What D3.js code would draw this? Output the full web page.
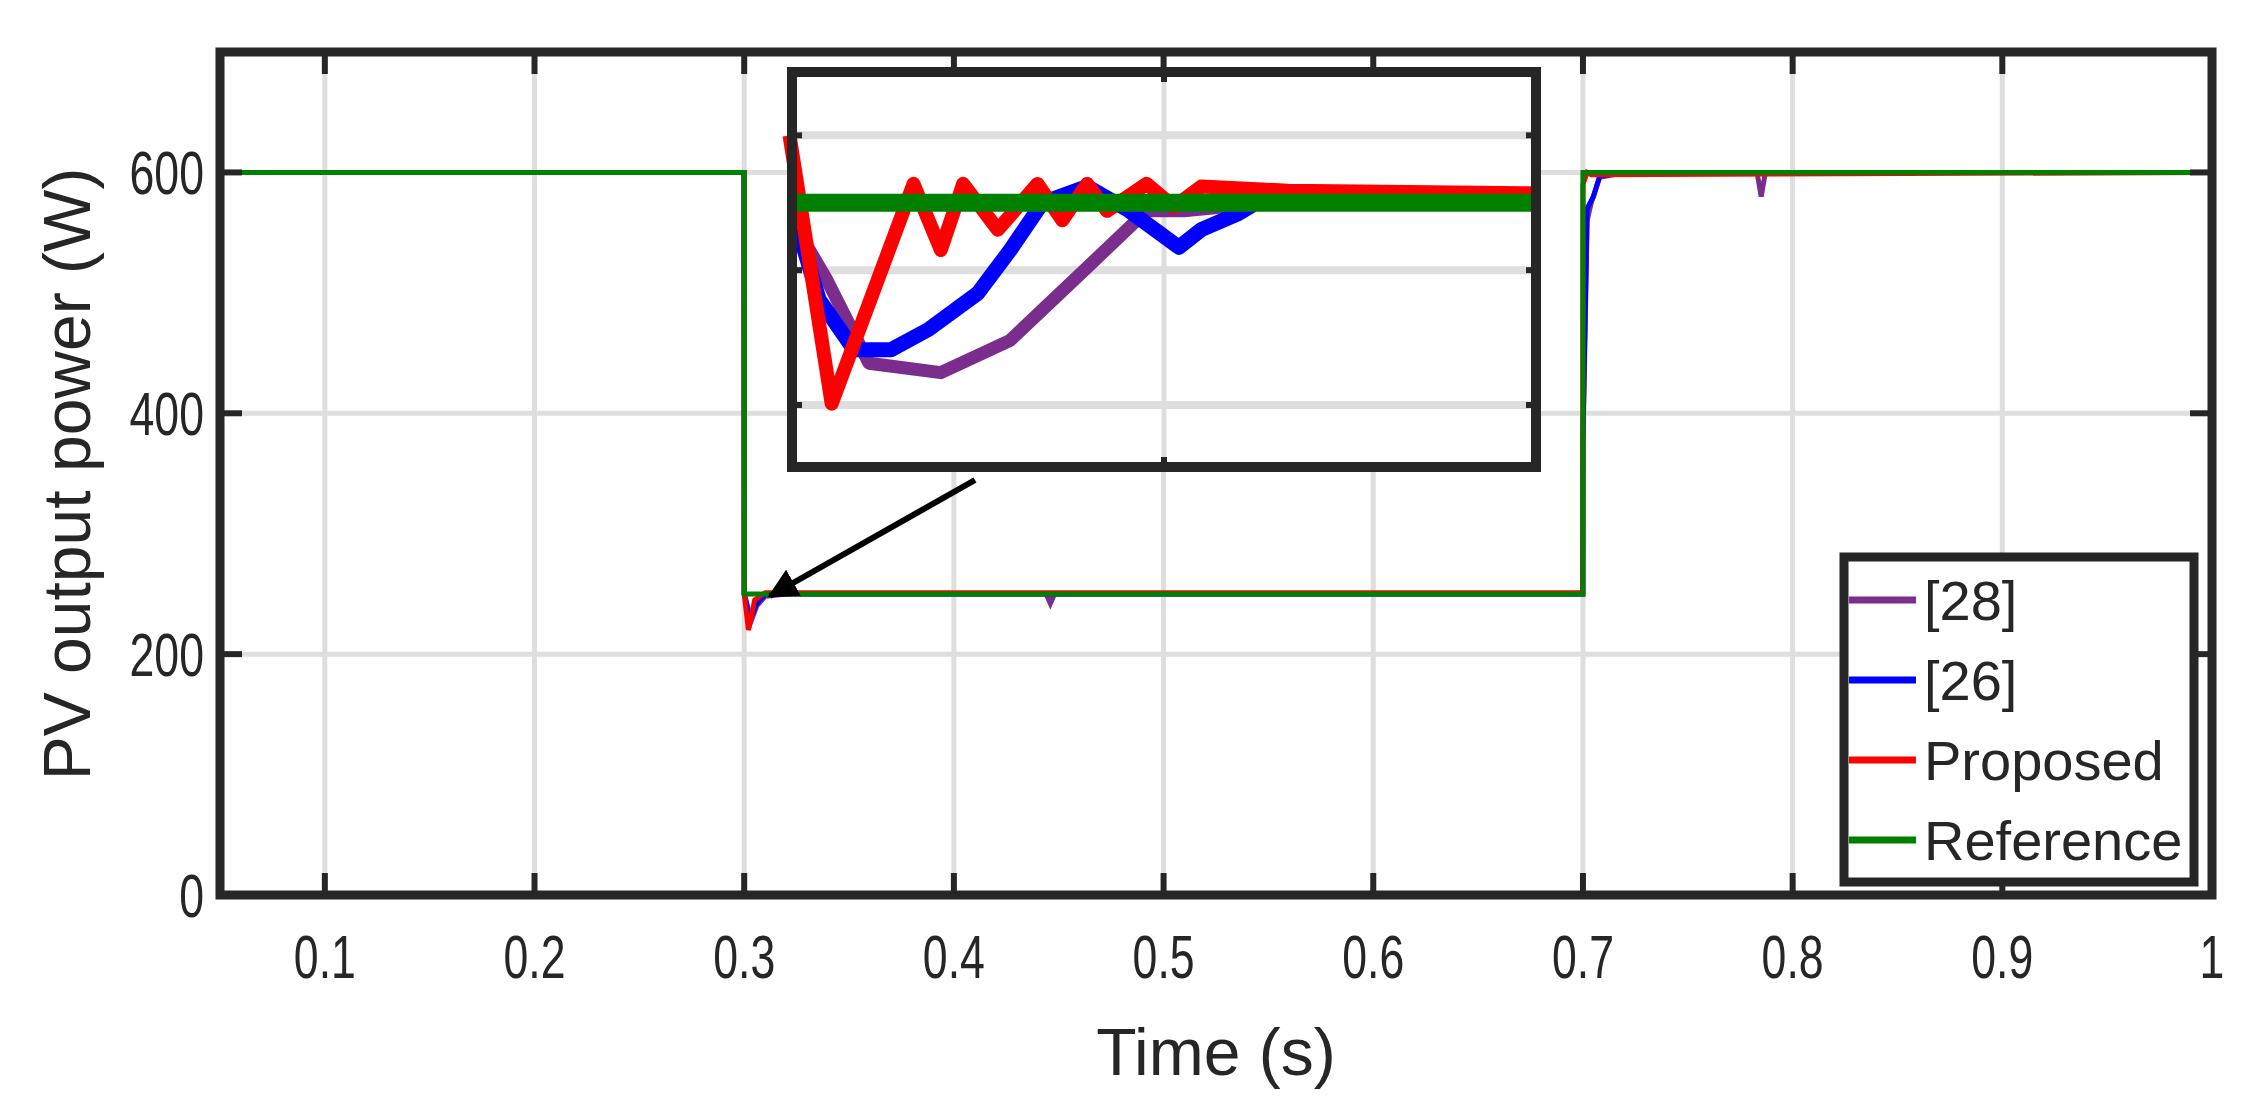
<!DOCTYPE html>
<html>
<head>
<meta charset="utf-8">
<script src="https://cdn.jsdelivr.net/npm/d3@7"></script>
<style>
  body { margin: 0; background: #fff; overflow: hidden; }
  text { font-family: 'Liberation Sans', Arial, sans-serif; fill: #262626; }
</style>
</head>
<body>
<div id="container"></div>
<script>
// main plot series (time s, power W)
var t28 = [0.05, 0.2999, 0.3, 0.303, 0.306, 0.31, 0.32, 0.444, 0.446, 0.448, 0.6999, 0.7, 0.702, 0.704, 0.708, 0.72, 0.783, 0.785, 0.787, 1];
var p28 = [600, 600, 250, 226, 240, 248, 250, 250, 242, 250, 250, 372, 560, 575, 596, 600, 600, 580, 600, 600];
var t26 = [0.05, 0.2999, 0.3, 0.303, 0.306, 0.31, 0.32, 0.6999, 0.7, 0.702, 0.705, 0.708, 0.72, 1];
var p26 = [600, 600, 250, 230, 242, 250, 250, 250, 380, 570, 580, 597, 600, 600];
var tProp = [0.05, 0.2999, 0.3, 0.302, 0.305, 0.31, 0.6999, 0.7, 0.702, 0.704, 1];
var pProp = [600, 600, 250, 220, 245, 251, 251, 590, 600, 598, 600];
var tRef = [0.05, 0.3, 0.3, 0.7, 0.7, 1];
var pRef = [600, 600, 250, 250, 600, 600];

// inset (zoom around t = 0.3 s)
var i28t = [0.3001, 0.3014, 0.3031, 0.306, 0.3088, 0.3119, 0.3143, 0.3158, 0.318, 0.32, 0.33];
var i28p = [248.4, 244.3, 238.1, 237.4, 239.8, 245.2, 249.4, 249.4, 249.8, 250.3, 250.3];
var i26t = [0.3001, 0.3011, 0.3025, 0.304, 0.3055, 0.3075, 0.3088, 0.3101, 0.3119, 0.3136, 0.3156, 0.3165, 0.318, 0.3191, 0.33];
var i26p = [248.9, 242.8, 239.1, 239.1, 240.6, 243.3, 246.5, 250, 251.2, 249.4, 246.7, 248, 249.2, 250.4, 250.3];
var iPropT = [0.2999, 0.3016, 0.3049, 0.306, 0.3069, 0.3083, 0.3099, 0.3109, 0.3119, 0.3127, 0.3143, 0.3154, 0.3165, 0.32, 0.33];
var iPropP = [255, 235.1, 251.4, 246.5, 251.4, 248, 251.4, 248.7, 251.4, 249.4, 251.4, 249.7, 251.2, 250.9, 250.7];
var iRefT = [0.3002, 0.3302];
var iRefP = [250, 250];

var xTicks = [0.1, 0.2, 0.3, 0.4, 0.5, 0.6, 0.7, 0.8, 0.9, 1];
var yTicks = [0, 200, 400, 600];
var insetXTicks = [0.315];
var insetYTicks = [235, 245, 255];

var names = ["[28]", "[26]", "Proposed", "Reference"];
var colors = ["#7b2d8e", "#0000ff", "#ff0000", "#008000"];

var W = 2259, H = 1113;
var svg = d3.select("#container").append("svg").attr("width", W).attr("height", H);

var x = d3.scaleLinear().domain([0.05, 1]).range([220, 2212]);
var y = d3.scaleLinear().domain([0, 700]).range([895, 52]);

// grid
svg.append("g").selectAll("line").data(xTicks).join("line")
  .attr("x1", d => x(d)).attr("x2", d => x(d)).attr("y1", y(0)).attr("y2", y(700))
  .attr("stroke", "#dedede").attr("stroke-width", 5);
svg.append("g").selectAll("line").data(yTicks.concat([700])).join("line")
  .attr("y1", d => y(d)).attr("y2", d => y(d)).attr("x1", x(0.05)).attr("x2", x(1))
  .attr("stroke", "#dedede").attr("stroke-width", 5);

function series(ts, ps) { return ts.map((t, i) => [t, ps[i]]); }
var line = d3.line().x(d => x(d[0])).y(d => y(d[1]));
var mainData = [series(t28, p28), series(t26, p26), series(tProp, pProp), series(tRef, pRef)];
var mainWidths = [5, 5, 5, 5];
var order = [0, 1, 2, 3];
order.forEach(function (k) {
  svg.append("path").datum(mainData[k]).attr("d", line).attr("fill", "none")
    .attr("stroke", colors[k]).attr("stroke-width", mainWidths[k]);
});

// frame and ticks
svg.append("rect").attr("x", x(0.05)).attr("y", y(700)).attr("width", x(1) - x(0.05)).attr("height", y(0) - y(700))
  .attr("fill", "none").attr("stroke", "#262626").attr("stroke-width", 9);
var tk = svg.append("g").attr("stroke", "#262626").attr("stroke-width", 6);
xTicks.forEach(function (d) {
  tk.append("line").attr("x1", x(d)).attr("x2", x(d)).attr("y1", y(0)).attr("y2", y(0) - 22);
  tk.append("line").attr("x1", x(d)).attr("x2", x(d)).attr("y1", y(700)).attr("y2", y(700) + 22);
});
yTicks.forEach(function (d) {
  tk.append("line").attr("y1", y(d)).attr("y2", y(d)).attr("x1", x(0.05)).attr("x2", x(0.05) + 22);
  tk.append("line").attr("y1", y(d)).attr("y2", y(d)).attr("x1", x(1)).attr("x2", x(1) - 22);
});

// tick labels (condensed look)
svg.append("g").selectAll("text").data(xTicks).join("text")
  .attr("transform", d => "translate(" + x(d) + ",978) scale(0.72,1)")
  .attr("text-anchor", "middle").attr("font-size", 62).text(d => d === 1 ? "1" : d);
svg.append("g").selectAll("text").data(yTicks).join("text")
  .attr("transform", d => "translate(204," + (y(d) + 22) + ") scale(0.72,1)")
  .attr("text-anchor", "end").attr("font-size", 62).text(d => d);

svg.append("text").attr("x", 1216).attr("y", 1075).attr("text-anchor", "middle")
  .attr("font-size", 66).text("Time (s)");
svg.append("text").attr("transform", "translate(90,474) rotate(-90)").attr("text-anchor", "middle")
  .attr("font-size", 66).text("PV output power (W)");

// arrow
svg.append("defs").append("marker").attr("id", "ah").attr("viewBox", "0 0 10 10")
  .attr("refX", 9).attr("refY", 5).attr("markerWidth", 5).attr("markerHeight", 5).attr("orient", "auto")
  .append("path").attr("d", "M0,0L10,5L0,10z").attr("fill", "#000");
svg.append("line").attr("x1", 975).attr("y1", 480).attr("x2", 770).attr("y2", 596)
  .attr("stroke", "#000").attr("stroke-width", 6).attr("marker-end", "url(#ah)");

// inset
var ix = d3.scaleLinear().domain([0.3, 0.33]).range([792, 1536]);
var iy = d3.scaleLinear().domain([230.4, 259.7]).range([467, 72]);
var ins = svg.append("g");
ins.append("rect").attr("x", 792).attr("y", 72).attr("width", 744).attr("height", 395).attr("fill", "#fff");
ins.selectAll(".gx").data(insetXTicks).join("line")
  .attr("x1", d => ix(d)).attr("x2", d => ix(d)).attr("y1", 72).attr("y2", 467)
  .attr("stroke", "#dedede").attr("stroke-width", 5);
ins.selectAll(".gy").data(insetYTicks).join("line")
  .attr("y1", d => iy(d)).attr("y2", d => iy(d)).attr("x1", 792).attr("x2", 1536)
  .attr("stroke", "#dedede").attr("stroke-width", 8);
var clip = svg.append("clipPath").attr("id", "ic");
clip.append("rect").attr("x", 770).attr("y", 72).attr("width", 790).attr("height", 395);
var iline = d3.line().x(d => ix(d[0])).y(d => iy(d[1]));
var insetData = [series(i28t, i28p), series(i26t, i26p), series(iPropT, iPropP), series(iRefT, iRefP)];
var insetWidths = [13, 15, 14, 18];
order.forEach(function (k) {
  ins.append("path").datum(insetData[k]).attr("d", iline).attr("fill", "none")
    .attr("clip-path", "url(#ic)").attr("stroke", colors[k]).attr("stroke-width", insetWidths[k])
    .attr("stroke-linejoin", "round");
});
ins.append("rect").attr("x", 792).attr("y", 72).attr("width", 744).attr("height", 395)
  .attr("fill", "none").attr("stroke", "#262626").attr("stroke-width", 10);
var itk = ins.append("g").attr("stroke", "#262626").attr("stroke-width", 6);
insetXTicks.forEach(function (d) {
  itk.append("line").attr("x1", ix(d)).attr("x2", ix(d)).attr("y1", 72).attr("y2", 82);
  itk.append("line").attr("x1", ix(d)).attr("x2", ix(d)).attr("y1", 467).attr("y2", 457);
});
insetYTicks.forEach(function (d) {
  itk.append("line").attr("y1", iy(d)).attr("y2", iy(d)).attr("x1", 792).attr("x2", 802);
  itk.append("line").attr("y1", iy(d)).attr("y2", iy(d)).attr("x1", 1536).attr("x2", 1526);
});

// legend
var lg = svg.append("g");
lg.append("rect").attr("x", 1844).attr("y", 557).attr("width", 350).attr("height", 325)
  .attr("fill", "#fff").attr("stroke", "#262626").attr("stroke-width", 9);
var rowY = [600, 680, 760, 840];
names.forEach(function (n, i) {
  lg.append("line").attr("x1", 1849).attr("x2", 1916).attr("y1", rowY[i]).attr("y2", rowY[i])
    .attr("stroke", colors[i]).attr("stroke-width", 7);
  lg.append("text").attr("x", 1924).attr("y", rowY[i] + 20).attr("font-size", 56)
    .attr("fill", "#000").text(n);
});
</script>
</body>
</html>
